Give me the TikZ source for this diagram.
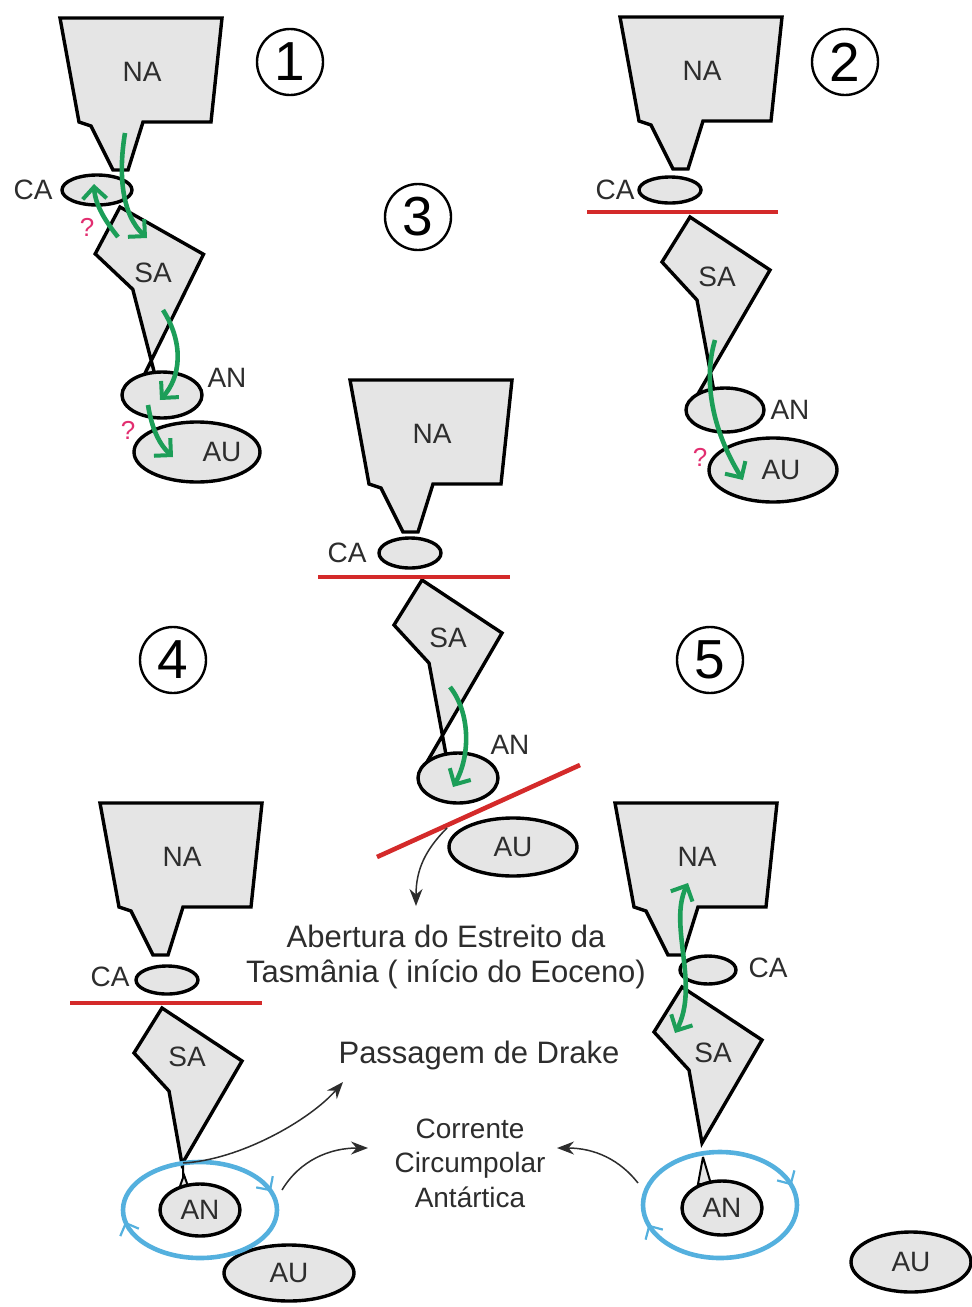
\documentclass[tikz,border=0pt]{standalone}
\usepackage{fontspec}
\setmainfont{Liberation Sans}
\usetikzlibrary{arrows.meta,shapes.geometric,decorations.markings}

\definecolor{landgray}{RGB}{229,229,229}
\definecolor{inkgray}{RGB}{45,45,45}
\definecolor{riftred}{RGB}{212,42,42}
\definecolor{flowgreen}{RGB}{28,158,88}
\definecolor{iceblue}{RGB}{84,176,222}
\definecolor{askpink}{RGB}{226,46,112}

\tikzset{
  >={Stealth[length=17pt,width=13pt]},
  coast/.style={draw=black,line width=3.4pt,fill=landgray,miter limit=4},
  isle/.style={coast,ellipse,inner sep=0pt,font=\fontsize{28}{30}\selectfont,text=inkgray},
  tag/.style={font=\fontsize{28}{30}\selectfont,text=inkgray,inner sep=0pt},
  note/.style={tag,font=\fontsize{31}{35}\selectfont,align=center},
  stage/.style={circle,draw=black,line width=2.4pt,minimum size=66pt,inner sep=0pt,
    font=\fontsize{55}{55}\selectfont},
  ask/.style={text=askpink,font=\fontsize{26}{26}\selectfont,inner sep=0pt},
  rift/.style={riftred,line width=4.6pt},
  flow/.style={flowgreen,line width=4.6pt,-{Straight Barb[length=12pt,width=24pt,line width=4pt]}},
  flowboth/.style={flow,{Straight Barb[length=12pt,width=24pt,line width=4pt]}-{Straight Barb[length=12pt,width=24pt,line width=4pt]}},
  pointer/.style={inkgray,line width=1.5pt,->},
  current/.style 2 args={iceblue,line width=4.6pt,postaction={decorate},
    decoration={markings,
      mark=at position #1 with {\arrow{Straight Barb[length=10pt,width=20pt,line width=2.2pt]}},
      mark=at position #2 with {\arrow{Straight Barb[length=10pt,width=20pt,line width=2.2pt]}}}},
  pics/northam/.style={code={
    \draw[coast] (0,0) -- (162,0) -- (151,104) -- (83,104) -- (68,152)
      -- (53,152) -- (31,108) -- (19,104) -- cycle;
    \node[tag] (-name) at (82,54) {NA};
  }},
  pics/southam/.style={code={
    \draw[coast] (0,0) -- (80,53) -- (20,156) -- (7,83) -- (-28,45) -- cycle;
  }},
  pics/southamtail/.style={code={
    \draw[coast] (0,0) -- (80,53) -- (5,182) -- (25,180) -- (7,83) -- (-28,45) -- cycle;
  }},
}

\begin{document}
\begin{tikzpicture}[x=1pt,y=-1pt]
\useasboundingbox (0,0) rectangle (972,1307);

% stage 1
\pic (na1) at (60,18) {northam};
\node[isle,minimum width=70pt,minimum height=30pt] (ca1) at (97,190) {};
\pic[rotate=4] (sa1) at (120,207) {southamtail};
\node[isle,minimum width=126pt,minimum height=60pt] (au1) at (197,452) {};
\node[isle,minimum width=80pt,minimum height=46pt] (an1) at (162,395) {};
\node[tag] (ca1-name) at (33,190) {CA};
\node[tag] (sa1-name) at (153,273) {SA};
\node[tag] (an1-name) at (227,378) {AN};
\node[tag] (au1-name) at (222,452) {AU};
\draw[flow] (125,133) .. controls (118,175) and (122,215) .. (147,238);
\draw[flow] (118,237) .. controls (106,222) and (95,205) .. (94,184);
\draw[flow] (163,310) .. controls (185,345) and (180,378) .. (160,400);
\draw[flow] (148,405) .. controls (152,430) and (160,445) .. (173,457);
\node[ask] (ask1) at (87,227) {?};
\node[ask] (ask2) at (128,430) {?};
\node[stage] (stage1) at (290,62) {1};

% stage 2
\pic (na2) at (620,17) {northam};
\node[isle,minimum width=62pt,minimum height=26pt] (ca2) at (670,190) {};
\pic (sa2) at (690,217) {southamtail};
\node[isle,minimum width=128pt,minimum height=64pt] (au2) at (773,470) {};
\node[isle,minimum width=78pt,minimum height=44pt] (an2) at (725,410) {};
\draw[rift] (587,212) -- (778,212);
\node[tag] (ca2-name) at (615,190) {CA};
\node[tag] (sa2-name) at (717,277) {SA};
\node[tag] (an2-name) at (790,410) {AN};
\node[tag] (au2-name) at (781,470) {AU};
\draw[flow] (715,340) .. controls (703,380) and (712,430) .. (743,480);
\node[ask] (ask3) at (700,457) {?};
\node[stage] (stage2) at (845,62) {2};

% stage 3
\pic (na3) at (350,380) {northam};
\node[isle,minimum width=62pt,minimum height=30pt] (ca3) at (410,553) {};
\pic (sa3) at (422,580) {southamtail};
\node[isle,minimum width=80pt,minimum height=50pt] (an3) at (458,778) {};
\node[isle,minimum width=128pt,minimum height=58pt] (au3) at (513,847) {AU};
\draw[rift] (318,577) -- (510,577);
\draw[rift] (377,857) -- (580,765);
\node[tag] (ca3-name) at (347,553) {CA};
\node[tag] (sa3-name) at (448,638) {SA};
\node[tag] (an3-name) at (510,745) {AN};
\draw[flow] (450,687) .. controls (470,712) and (471,755) .. (453,787);
\node[stage] (stage3) at (418,217) {3};

% stage 4
\pic (na4) at (100,803) {northam};
\node[isle,minimum width=62pt,minimum height=28pt] (ca4) at (167,980) {};
\pic (sa4) at (162,1008) {southam};
\draw[coast,line width=2pt] (183,1163) -- (183,1178) (184,1175) -- (179,1189) -- (189,1189) -- cycle;
\node[isle,minimum width=80pt,minimum height=52pt] (an4) at (200,1210) {AN};
\node[isle,minimum width=130pt,minimum height=56pt] (au4) at (289,1273) {AU};
\draw[current={0.47}{0.95}] (200,1210) ellipse [x radius=77,y radius=48];
\draw[rift] (70,1003) -- (262,1003);
\node[tag] (ca4-name) at (110,977) {CA};
\node[tag] (sa4-name) at (187,1057) {SA};
\node[stage] (stage4) at (173,660) {4};

% stage 5
\pic (na5) at (615,803) {northam};
\node[isle,minimum width=56pt,minimum height=28pt] (ca5) at (708,970) {};
\pic (sa5) at (682,987) {southam};
\draw[coast,line width=2pt] (703,1157) -- (698,1184) -- (711,1184) -- cycle;
\node[isle,minimum width=80pt,minimum height=54pt] (an5) at (722,1208) {AN};
\node[isle,minimum width=120pt,minimum height=60pt] (au5) at (911,1262) {AU};
\draw[current={0.45}{0.95}] (720,1205) ellipse [x radius=77,y radius=53];
\node[tag] (ca5-name) at (768,968) {CA};
\node[tag] (sa5-name) at (713,1053) {SA};
\draw[flowboth] (688,883) .. controls (668,925) and (700,985) .. (675,1033);
\node[stage] (stage5) at (710,660) {5};

% captions (base = last line)
\node[note,anchor=base] (tasman) at (446,982) {Abertura do Estreito da\\Tasmânia ( início do Eoceno)};
\node[note,anchor=base] (drake) at (479,1063) {Passagem de Drake};
\node[tag,align=center,font=\fontsize{28}{34.5}\selectfont,anchor=base] (acc) at (470,1207) {Corrente\\Circumpolar\\Antártica};

\coordinate (strait) at (447,828);
\coordinate (strait-tip) at (416,906);
\coordinate (drake-src) at (183,1163);
\coordinate (drake-tip) at (343,1082);
\coordinate (acc-src4) at (282,1190);
\coordinate (acc-tip4) at (368,1148);
\coordinate (acc-src5) at (638,1183);
\coordinate (acc-tip5) at (557,1148);
\draw[pointer] (strait) .. controls (425,850) and (416,870) .. (strait-tip);
\draw[pointer] (drake-src) .. controls (240,1160) and (310,1120) .. (drake-tip);
\draw[pointer] (acc-src4) .. controls (300,1160) and (330,1148) .. (acc-tip4);
\draw[pointer] (acc-src5) .. controls (620,1160) and (595,1148) .. (acc-tip5);
\end{tikzpicture}
\end{document}
